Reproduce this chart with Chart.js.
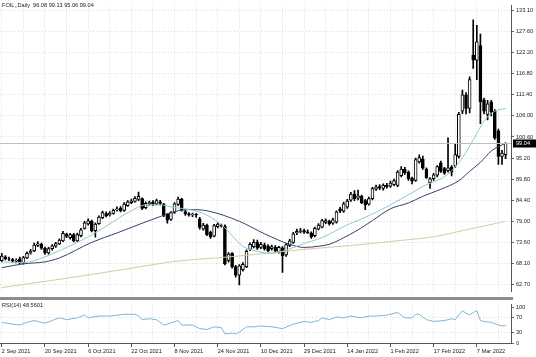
<!DOCTYPE html>
<html><head><meta charset="utf-8">
<script src="https://cdn.jsdelivr.net/npm/chart.js@4.4.1/dist/chart.umd.min.js"></script>
<style>
html,body{margin:0;padding:0;background:#fff;}
#wrap{position:relative;width:536px;height:357px;overflow:hidden;background:#fff;}
#c1{position:absolute;left:0;top:0;}
#c2{position:absolute;left:0;top:299px;}
#sep{position:absolute;left:0;top:297px;width:513px;height:3px;background:#8c8c8c;z-index:3;}
.lbl{position:absolute;font:5.6px "Liberation Sans",Arial,sans-serif;color:#222;white-space:pre;z-index:4;}
</style></head><body>
<div id="wrap">
<canvas id="c1" width="536" height="297"></canvas>
<div id="sep"></div>
<canvas id="c2" width="536" height="58"></canvas>
<div class="lbl" style="left:2px;top:2px;">FOIL,,Daily  96.08 99.13 95.06 99.04</div>
<div class="lbl" style="left:2px;top:302px;">RSI(14) 48.5601</div>
</div>
<script>
// ---------- data ----------
const tickLabels = ['2 Sep 2021','20 Sep 2021','6 Oct 2021','22 Oct 2021','8 Nov 2021','24 Nov 2021','10 Dec 2021','29 Dec 2021','14 Jan 2022','1 Feb 2022','17 Feb 2022','7 Mar 2022'];
const priceTicks = [133.10,127.60,122.20,116.80,111.40,106.00,100.60,95.20,89.80,84.40,79.00,73.60,68.10,62.70];
const rsiTicks = [100,70,30,0];

const opens = [68.9,69.9,69.4,69.2,68.8,69.4,68.3,69.6,70.9,71.4,
72.8,73.1,72.1,70.9,72.0,72.6,73.2,74.0,75.7,74.8,
75.6,74.0,75.3,77.2,78.3,79.0,76.6,78.4,79.9,81.0,
80.6,81.0,81.9,82.4,81.8,83.0,83.8,84.1,84.6,84.8,
82.5,83.5,83.9,83.4,84.0,83.4,80.8,79.5,81.3,83.3,
84.7,81.5,80.9,80.6,80.8,79.6,77.0,78.0,76.2,75.2,
77.6,78.0,77.8,69.0,70.8,67.4,65.2,66.6,67.4,71.8,
72.5,73.6,72.3,72.9,72.6,72.0,72.4,71.1,72.2,70.4,
72.8,73.6,76.0,76.4,76.6,76.3,76.0,75.3,77.0,77.5,
78.7,79.0,78.5,78.8,82.2,81.6,82.6,84.4,86.0,84.9,
85.4,84.3,83.4,84.8,87.2,87.9,87.4,88.3,88.0,88.4,
88.2,90.7,92.3,91.6,90.0,89.5,94.2,95.0,92.4,88.8,
89.9,90.8,94.0,92.5,92.0,92.9,93.1,95.6,107.2,111.4,
107.9,121.5,120.3,124.0,110.1,106.4,109.6,107.2,102.2,95.6,96.08];
const highs = [70.8,70.2,69.8,69.5,69.4,69.8,70.0,71.2,71.8,73.4,
73.8,73.4,72.4,72.3,73.0,73.6,74.5,76.4,76.0,75.9,
75.9,76.0,77.2,79.0,79.6,79.3,78.6,80.4,81.6,81.4,
81.5,82.1,82.7,82.8,83.8,84.3,84.7,85.3,86.5,85.0,
84.0,84.2,84.3,84.7,84.4,83.6,81.0,81.5,83.8,85.2,
84.9,81.8,81.2,81.1,81.0,80.0,78.5,78.3,76.5,78.2,
78.6,78.3,78.1,71.0,71.0,67.7,67.9,68.4,71.7,73.5,
74.3,74.2,73.6,73.4,73.0,72.9,72.8,72.6,72.5,73.3,
74.4,76.2,77.0,77.2,77.0,76.8,76.3,77.5,78.4,79.5,
79.6,79.3,79.8,81.7,82.6,83.9,84.6,86.4,86.9,87.0,
85.7,84.6,85.2,87.7,88.3,88.4,88.6,88.7,89.3,89.8,
92.0,93.0,92.8,91.9,90.3,95.2,96.0,95.7,92.7,90.2,
91.3,93.3,94.4,92.8,100.4,93.3,99.0,106.9,112.6,112.0,
116.0,130.6,129.2,127.0,110.6,110.0,110.0,107.6,102.6,97.2,99.13];
const lows = [68.6,69.1,68.9,68.5,68.3,68.0,68.0,69.4,70.6,71.2,
72.5,71.8,70.5,70.6,71.6,72.3,73.0,73.8,74.8,74.4,
73.7,73.8,75.0,77.0,78.0,76.3,74.9,78.2,79.7,80.1,
80.3,80.8,81.6,81.4,81.5,82.8,83.5,83.9,84.3,82.0,
82.2,83.1,83.0,83.2,83.2,80.2,78.5,79.2,81.0,83.0,
81.6,80.5,80.3,80.2,80.0,77.0,76.7,75.3,74.6,75.0,
77.3,77.5,67.8,68.5,67.0,64.7,62.7,66.2,67.1,71.5,
72.2,71.8,72.0,71.6,71.2,71.6,71.0,70.8,65.9,70.0,
72.5,73.3,75.6,76.0,75.9,75.8,74.6,75.0,76.8,77.3,
78.4,78.0,78.2,78.5,81.2,81.3,82.3,84.1,84.3,84.5,
83.5,82.0,83.1,84.5,86.9,87.1,87.0,87.5,87.7,88.1,
87.9,90.4,91.0,89.5,88.6,89.2,93.9,92.3,90.0,87.4,
89.5,90.4,91.5,91.0,91.6,90.6,92.8,95.2,106.6,106.5,
106.8,118.2,115.3,104.0,106.5,105.0,106.0,100.0,93.6,93.6,95.06];
const closes = [70.1,69.4,69.3,68.8,69.0,68.3,69.7,70.8,71.3,72.9,
73.2,72.1,70.9,72.0,72.7,73.3,74.2,75.9,75.1,75.6,
74.0,75.6,76.8,78.6,79.1,76.6,78.3,80.1,81.2,80.4,
81.1,81.8,82.2,81.7,83.4,84.0,84.2,84.9,85.4,82.3,
83.6,83.8,83.4,84.3,83.6,80.5,79.3,81.2,83.5,84.7,
81.9,80.9,80.7,80.8,80.6,77.4,78.0,75.6,75.0,77.9,
78.3,77.8,68.1,70.6,67.4,65.2,67.6,68.0,71.3,73.1,
73.6,72.1,73.1,72.0,71.5,72.5,71.4,72.3,70.1,73.0,
74.0,75.8,76.4,76.6,76.2,76.1,75.0,77.2,78.0,79.2,
79.2,78.4,79.4,81.4,81.6,83.5,84.2,86.0,84.8,85.5,
83.8,83.2,84.8,87.4,87.8,87.5,88.2,87.9,88.8,89.4,
91.6,92.4,91.4,89.9,89.3,94.8,95.3,92.6,90.2,89.9,
90.9,93.0,91.8,91.3,92.7,91.6,96.1,106.4,111.4,107.9,
115.3,120.3,125.0,109.6,107.2,109.1,107.1,100.3,95.6,96.5,99.04];

// moving averages: [bar index, value]
const fastMA = [[0,68.6],[6,68.4],[12,69.9],[18,72.3],[25,75.5],[37,82.2],[40,83.2],[44,83.2],[48,82.5],[51,82.2],[56,81.0],[59,79.5],[62,77.3],[67,72.6],[71,71.3],[75,70.8],[79,71.6],[84,73.3],[89,74.8],[96,78.1],[99,79.2],[108,83.2],[117,87.9],[124,91.1],[128,95.3],[132,101.5],[134,104.7],[137,107.2],[140,107.9]];
const slowMA = [[0,67.1],[6,68.1],[12,68.6],[16,69.6],[25,73.6],[32,76.0],[39,78.5],[44,80.2],[48,81.5],[52,82.0],[57,81.7],[66,79.0],[73,75.8],[80,73.1],[84,72.3],[88,72.6],[91,73.1],[94,74.3],[99,76.8],[103,79.2],[108,82.2],[113,83.7],[117,85.4],[122,87.2],[127,89.4],[130,91.8],[133,94.1],[136,97.0],[140,99.0]];
const longMA = [[0,62.0],[18,64.4],[37,67.1],[47,68.6],[66,70.1],[84,71.8],[97,72.8],[111,74.1],[120,75.05],[129,76.8],[139,78.8],[140,79.0]];
const rsi = [[0,57.5],[3,52.5],[5,50],[7,57.5],[9,62.5],[12,55],[14,62.5],[16,70],[18,65],[21,70],[23,77.5],[24,70],[27,75],[30,75],[34,80],[37,80],[38,75],[39,65],[41,67.5],[43,65],[45,50],[46,52.5],[49,62.5],[50,50],[53,50],[55,40],[57,37.5],[59,45],[61,42.5],[62,25],[64,27.5],[65,25],[66,30],[68,45],[70,45],[72,47.5],[75,45],[78,40],[81,52.5],[84,60],[86,57.5],[88,62.5],[89,70],[91,65],[93,72.5],[95,70],[97,75],[100,70],[102,75],[104,75],[107,77.5],[110,85],[112,70],[114,70],[115,80],[116,80],[118,65],[120,60],[123,62.5],[125,67.5],[126,65],[128,90],[129,83],[130,78],[131,85],[132,90],[133,62.5],[134,60],[136,57.5],[138,50],[139,47.5],[140,48.56]];

// ---------- build ----------
const N = closes.length;
const categories = closes.map((_, i) => String(i)).concat(['']); // one empty slot = chart right shift
const M = categories.length;
function sparse(pairs){ const a = new Array(M).fill(null); pairs.forEach(([i,v]) => a[i] = v); return a; }
const bodies = opens.map((o,i) => { const c = closes[i]; let lo = Math.min(o,c), hi = Math.max(o,c); if (hi - lo < 0.08){ lo -= 0.04; hi += 0.04; } return [lo,hi]; });
const wicks = lows.map((l,i) => [l, highs[i]]);
const bodyFill = opens.map((o,i) => closes[i] >= o ? '#ffffff' : '#000000');

const FONT = {family:'"Liberation Sans", Arial, sans-serif', size:5.6};
const GRID = '#dadada';
const vGrid = ctx => (ctx.index % 6 === 0 ? GRID : 'rgba(0,0,0,0)');

const priceLine = {
  id:'priceLine',
  afterDatasetsDraw(chart){
    const {ctx, chartArea:a, scales:{y}} = chart;
    const last = closes[N-1];
    const py = Math.round(y.getPixelForValue(last)) + 0.5;
    ctx.save();
    ctx.strokeStyle = '#bdbdbd'; ctx.lineWidth = 1;
    ctx.beginPath(); ctx.moveTo(a.left, py); ctx.lineTo(a.right, py); ctx.stroke();
    ctx.fillStyle = '#000';
    ctx.fillRect(a.right + 2, py - 4, 23, 8);
    ctx.fillStyle = '#fff'; ctx.font = '5.6px "Liberation Sans", Arial, sans-serif';
    ctx.textBaseline = 'middle'; ctx.textAlign = 'left';
    ctx.fillText(last.toFixed(2), a.right + 5, py);
    ctx.restore();
  }
};

new Chart(document.getElementById('c1'), {
  type:'bar',
  data:{
    labels: categories,
    datasets:[
      {type:'line', data:sparse(fastMA), borderColor:'#8fcac2', borderWidth:1, pointRadius:0, spanGaps:true, cubicInterpolationMode:'monotone', order:0},
      {type:'line', data:sparse(slowMA), borderColor:'#3d3d6e', borderWidth:1, pointRadius:0, spanGaps:true, cubicInterpolationMode:'monotone', order:0},
      {type:'line', data:sparse(longMA), borderColor:'#d8c8a6', borderWidth:1, pointRadius:0, spanGaps:true, cubicInterpolationMode:'monotone', order:0},
      {data:bodies, backgroundColor:bodyFill, borderColor:'#000', borderWidth:1, borderSkipped:false, barThickness:3, grouped:false, order:1},
      {data:wicks, backgroundColor:'#000', borderWidth:0, barThickness:1, grouped:false, order:2}
    ]
  },
  options:{
    responsive:false, animation:false, devicePixelRatio:1,
    layout:{padding:0},
    plugins:{legend:{display:false}, tooltip:{enabled:false}},
    scales:{
      x:{offset:true, grid:{offset:false, color:vGrid, drawTicks:false}, border:{display:false, dash:[1,2]},
         ticks:{display:false, autoSkip:false}, afterFit:s => { s.height = 0; }},
      y:{position:'right', min:60.97, max:134.335,
         afterBuildTicks:s => { s.ticks = priceTicks.map(v => ({value:v})); },
         ticks:{font:FONT, color:'#222', padding:2, callback:v => Number(v).toFixed(2)},
         grid:{color:GRID, tickLength:3, tickColor:'#666'},
         border:{display:true, color:'#555', dash:[1,2]},
         afterFit:s => { s.width = 25; }}
    }
  },
  plugins:[priceLine]
});

new Chart(document.getElementById('c2'), {
  type:'line',
  data:{
    labels: categories,
    datasets:[
      {data:sparse(rsi), borderColor:'#86b4d0', borderWidth:1, pointRadius:0, spanGaps:true, tension:0}
    ]
  },
  options:{
    responsive:false, animation:false, devicePixelRatio:1,
    layout:{padding:{top:1}},
    plugins:{legend:{display:false}, tooltip:{enabled:false}},
    scales:{
      x:{offset:true, grid:{offset:false, color:vGrid, tickLength:4, tickColor:ctx => (ctx.index % 12 === 0 ? '#555' : 'rgba(0,0,0,0)')},
         border:{display:true, color:'#555', dash:[1,2]},
         ticks:{autoSkip:false, maxRotation:0, minRotation:0, align:'start', padding:1, font:FONT, color:'#222',
                callback:(v,i) => (i % 12 === 0 && tickLabels[i/12]) ? tickLabels[i/12] : ''},
         afterFit:s => { s.height = 14; }},
      y:{position:'right', min:0, max:107.5,
         afterBuildTicks:s => { s.ticks = rsiTicks.map(v => ({value:v})); },
         ticks:{font:FONT, color:'#222', padding:2, callback:v => String(v)},
         grid:{color:ctx => (ctx.tick && (ctx.tick.value === 70 || ctx.tick.value === 30)) ? GRID : 'rgba(0,0,0,0)', tickLength:3, tickColor:'#666'},
         border:{display:true, color:'#555', dash:[1,2]},
         afterFit:s => { s.width = 25; }}
    }
  }
});
</script>
</body></html>
